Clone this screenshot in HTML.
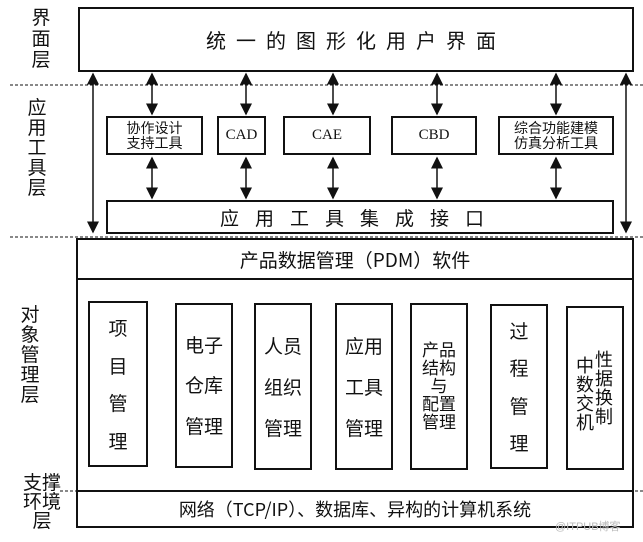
<!DOCTYPE html>
<html><head><meta charset="utf-8"><style>
body{margin:0;width:643px;height:542px;background:#fff;position:relative;overflow:hidden;font-family:"Liberation Serif","Noto Serif CJK SC","Noto Sans CJK SC",serif;color:#111}
.b{position:absolute;border:2px solid #111;box-sizing:border-box;background:#fff}
.t{position:absolute;display:flex;align-items:center;justify-content:center;text-align:center}
.v{position:absolute;font-size:19px;line-height:21px;width:22px;text-align:center;font-family:"Noto Sans CJK SC",sans-serif}
.in{position:absolute;border:2px solid #111;box-sizing:border-box;font-family:"Noto Sans CJK SC",sans-serif;font-size:19px;display:flex;flex-direction:column;align-items:center;justify-content:space-around;padding:6px 0}
</style></head><body>
<svg width="643" height="542" style="position:absolute;left:0;top:0">
<defs><marker id="a" markerWidth="8" markerHeight="10" refX="7" refY="5" orient="auto-start-reverse"><path d="M0,1 L8,5 L0,9 z" fill="#111"/></marker></defs>
<g stroke="#111" stroke-width="1" stroke-dasharray="3,2">
<line x1="10" y1="85" x2="643" y2="85"/>
<line x1="10" y1="237" x2="643" y2="237"/>
<line x1="60" y1="491" x2="643" y2="491"/>
</g>
<g stroke="#111" stroke-width="1.5" marker-start="url(#a)" marker-end="url(#a)">
<line x1="93" y1="74" x2="93" y2="232"/>
<line x1="626" y1="74" x2="626" y2="232"/>
<line x1="152" y1="74" x2="152" y2="114"/>
<line x1="246" y1="74" x2="246" y2="114"/>
<line x1="333" y1="74" x2="333" y2="114"/>
<line x1="437" y1="74" x2="437" y2="114"/>
<line x1="556" y1="74" x2="556" y2="114"/>
<line x1="152" y1="158" x2="152" y2="198"/>
<line x1="246" y1="158" x2="246" y2="198"/>
<line x1="333" y1="158" x2="333" y2="198"/>
<line x1="437" y1="158" x2="437" y2="198"/>
<line x1="556" y1="158" x2="556" y2="198"/>
</g>
</svg>
<div class="b t" style="left:78px;top:7px;width:556px;height:65px;font-size:20px;letter-spacing:10px;font-family:'Noto Sans CJK SC',sans-serif">统一的图形化用户界面</div>
<div class="b t" style="left:106px;top:116px;width:97px;height:39px;font-size:14px;line-height:15px;font-family:'Noto Sans CJK SC',sans-serif">协作设计<br>支持工具</div>
<div class="b t" style="left:217px;top:116px;width:49px;height:39px;font-size:15px">CAD</div>
<div class="b t" style="left:283px;top:116px;width:88px;height:39px;font-size:15px">CAE</div>
<div class="b t" style="left:391px;top:116px;width:86px;height:39px;font-size:15px">CBD</div>
<div class="b t" style="left:498px;top:116px;width:116px;height:39px;font-size:14px;line-height:15px;font-family:'Noto Sans CJK SC',sans-serif">综合功能建模<br>仿真分析工具</div>
<div class="b t" style="left:106px;top:200px;width:508px;height:34px;font-size:19px;letter-spacing:16px;font-family:'Noto Sans CJK SC',sans-serif">应用工具集成接口</div>
<div class="b" style="left:76px;top:238px;width:558px;height:290px"></div>
<div style="position:absolute;left:76px;top:278px;width:558px;border-top:2px solid #111"></div>
<div class="t" style="left:76px;top:240px;width:558px;height:38px;font-size:19px;font-family:'Noto Sans CJK SC',sans-serif">产品数据管理（PDM）软件</div>
<div class="in" style="left:88px;top:301px;width:60px;height:166px"><span>项</span><span>目</span><span>管</span><span>理</span></div>
<div class="in" style="left:175px;top:303px;width:58px;height:165px;padding:20px 0;line-height:24px"><span>电子</span><span>仓库</span><span>管理</span></div>
<div class="in" style="left:254px;top:303px;width:58px;height:167px;padding:20px 0"><span>人员</span><span>组织</span><span>管理</span></div>
<div class="in" style="left:335px;top:303px;width:58px;height:167px;padding:20px 0"><span>应用</span><span>工具</span><span>管理</span></div>
<div class="in" style="left:410px;top:303px;width:58px;height:167px;padding:18px 0 22px;justify-content:center;line-height:18px;font-size:17px"><span>产品</span><span>结构</span><span>与</span><span>配置</span><span>管理</span></div>
<div class="in" style="left:490px;top:304px;width:58px;height:165px"><span>过</span><span>程</span><span>管</span><span>理</span></div>
<div class="in" style="left:566px;top:306px;width:58px;height:164px;flex-direction:row;justify-content:center;align-items:center;line-height:19px;font-size:18px"><span style="width:19px;margin-top:12px">中数交机</span><span style="width:19px">性据换制</span></div>
<div style="position:absolute;left:76px;top:490px;width:558px;border-top:2px solid #111"></div>
<div class="t" style="left:76px;top:491px;width:558px;height:36px;font-size:18px;font-family:'Noto Sans CJK SC',sans-serif">网络（TCP/IP）、数据库、异构的计算机系统</div>
<div class="v" style="left:30px;top:6px">界面层</div>
<div class="v" style="left:26px;top:97px;line-height:20px">应用工具层</div>
<div class="v" style="left:19px;top:304px;line-height:20px">对象管理层</div>
<div class="v" style="left:20px;top:472px;width:44px;line-height:19px">支撑环境<br>层</div>
<div style="position:absolute;left:555px;top:518px;font-size:11px;color:#bbb;font-family:'Liberation Sans','Noto Sans CJK SC',sans-serif">@ITPUB博客</div>
</body></html>
